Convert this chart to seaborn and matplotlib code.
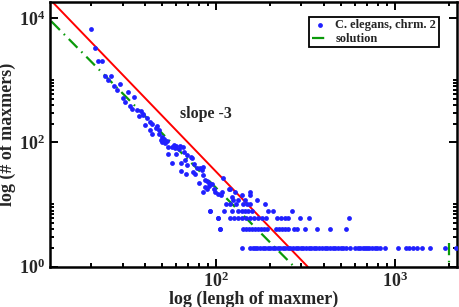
import numpy as np
import pandas as pd
import matplotlib
matplotlib.use("Agg")
import matplotlib.pyplot as plt
import matplotlib.ticker as mticker
import seaborn as sns

# scatter data: (length, count)
upper_len = [20, 21, 22, 23, 24, 26, 25, 27, 29, 28, 32, 30, 35, 31, 33, 34, 36, 38,
             39, 37, 39, 41, 40, 44, 47, 43, 48,
             43, 46, 44, 48, 50, 49, 51, 53, 52, 50, 58, 60, 63, 65, 62, 59, 54, 57,
             54, 60, 66, 69, 72, 73, 67, 64, 57, 69, 75, 78, 81, 85, 83, 64, 68, 74,
             76, 85, 80, 87, 89, 91, 95, 91, 97, 87, 89, 85, 99, 108, 110, 103, 107,
             118, 128, 155, 169, 122, 93, 105, 103, 139, 125, 133, 145, 155, 120]
upper_cnt = [6700, 3300, 2000, 2000, 1150, 1170, 1000, 815, 880, 705, 650, 523, 540,
             438, 388, 347, 333, 316, 288, 263, 270, 248, 188, 200, 181, 160, 160,
             210, 171, 136, 136, 120, 109, 113, 106, 96, 100, 91, 88, 88, 85, 78, 81,
             85, 85, 66, 65, 69, 63, 58, 56, 52, 47, 46, 43, 45, 39, 39, 40, 36, 35,
             31, 33, 31, 30, 22, 25, 24, 22, 21, 20, 18, 19, 18, 16, 16, 16, 27, 15,
             14, 18, 16, 16, 12, 13, 8, 4, 6, 14, 12, 12, 12, 14, 18]

row10_len = [114, 120, 130, 142, 149, 155, 188]
row8_len = [93, 111, 122, 133, 139, 145, 151, 158, 195, 208, 266]
row6_len = [103, 120, 126, 133, 140, 147, 155, 163, 172, 181, 190, 219, 231, 243,
            253, 294, 331, 553]
row4_len = [105, 142, 147, 153, 159, 165, 172, 178, 185, 193, 216, 225, 234, 243,
            253, 273, 283, 314, 366, 433, 532]
row2_len = [139, 155, 160, 165, 170, 176, 182, 188, 194, 200, 207, 214, 221, 228,
            236, 244, 252, 260, 269, 278, 287, 297, 307, 318, 329, 340, 352, 364,
            377, 390, 404, 418, 433, 448, 464, 480, 497, 514, 532, 560, 600, 620,
            640, 660, 680, 700, 720, 745, 770, 790, 824, 880, 1040, 1150, 1200,
            1260, 1320, 1420, 1570, 1900, 2200]

# fitted lines
slope_len = [11.8, 325]
slope_cnt = [19800, 1]
sol_len = [12, 273]
sol_cnt = [8800, 1]
sol_tail_len = [2000, 2000]
sol_tail_cnt = [2.4, 1]

lengths = (upper_len + row10_len + row8_len + row6_len + row4_len + row2_len)
counts = (upper_cnt + [10] * len(row10_len) + [8] * len(row8_len)
          + [6] * len(row6_len) + [4] * len(row4_len) + [2] * len(row2_len))
df = pd.DataFrame({"length": lengths, "count": counts})

sns.set_style("ticks")
plt.rcParams["font.family"] = ["Liberation Serif", "DejaVu Serif"]
plt.rcParams["font.weight"] = "bold"
plt.rcParams["axes.labelweight"] = "bold"

fig = plt.figure(figsize=(4.6, 3.07), dpi=100)
ax = fig.add_axes([50 / 460, 40.3 / 307, 407 / 460, 264.7 / 307])

sns.lineplot(x=slope_len, y=slope_cnt, ax=ax, color="red", linewidth=1.4,
             estimator=None, sort=False, legend=False)
sns.lineplot(x=sol_len, y=sol_cnt, ax=ax, color="#0a9a0a", linewidth=1.6,
             estimator=None, sort=False, legend=False)
sns.lineplot(x=sol_tail_len, y=sol_tail_cnt, ax=ax, color="#0a9a0a", linewidth=1.6,
             estimator=None, sort=False, legend=False)
sol_lines = ax.lines[1:3]
for ln in sol_lines:
    ln.set_dashes((5.5, 2.5, 0.7, 2.5))
sns.scatterplot(data=df, x="length", y="count", ax=ax, color="#2020ff", s=12,
                linewidth=0, zorder=3, legend=False)
dots = ax.collections[-1]

ax.set_xscale("log")
ax.set_yscale("log")
ax.set_xlim(11.8, 2220)
ax.set_ylim(1, 1.8e4)

ax.xaxis.set_major_locator(mticker.FixedLocator([100, 1000]))
ax.xaxis.set_minor_locator(mticker.FixedLocator(
    [20, 30, 40, 50, 60, 70, 80, 90, 200, 300, 400, 500, 600, 700, 800, 900, 2000]))
ax.yaxis.set_major_locator(mticker.FixedLocator([1, 100, 10000]))
ax.yaxis.set_minor_locator(mticker.FixedLocator(
    [2, 3, 4, 5, 6, 7, 8, 9, 10, 200, 300, 400, 500, 600, 700, 800, 900, 1000]))
ax.xaxis.set_major_formatter(mticker.LogFormatterMathtext())
ax.yaxis.set_major_formatter(mticker.LogFormatterMathtext())
ax.xaxis.set_minor_formatter(mticker.NullFormatter())
ax.yaxis.set_minor_formatter(mticker.NullFormatter())

ax.tick_params(which="both", direction="in", top=True, right=True, width=1.4,
               color="black", labelsize=13)
ax.tick_params(which="major", length=6)
ax.tick_params(which="minor", length=3)
for lab in ax.get_xticklabels() + ax.get_yticklabels():
    lab.set_fontweight("bold")
for sp in ax.spines.values():
    sp.set_linewidth(1.8)
    sp.set_color("black")

ax.set_xlabel("log (lengh of maxmer)", fontsize=13, fontweight="bold", labelpad=0)
ax.set_ylabel("log (# of maxmers)", fontsize=13, fontweight="bold", labelpad=2)
ax.text(63, 290, "slope -3", fontsize=11.5, fontweight="bold", va="center")

leg = ax.legend([dots, sol_lines[0]], ["C. elegans, chrm. 2", "solution"],
                loc="upper right", bbox_to_anchor=(0.955, 0.945), fontsize=9,
                frameon=True, fancybox=False, edgecolor="black", framealpha=1,
                borderpad=0.2, handlelength=1.4, handletextpad=0.5,
                labelspacing=0.15, borderaxespad=0)
leg.get_frame().set_linewidth(1.3)
for t in leg.get_texts():
    t.set_fontweight("bold")

fig.savefig("out.png", dpi=100)
